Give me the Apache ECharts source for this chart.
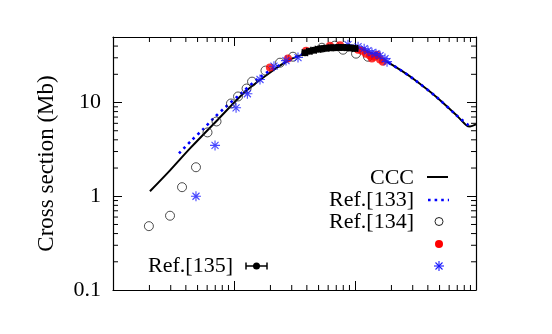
<!DOCTYPE html>
<html>
<head>
<meta charset="utf-8">
<script src="https://cdn.jsdelivr.net/npm/echarts@6/dist/echarts.min.js"></script>
<style>html,body{margin:0;padding:0;background:#fff;}#c{width:552px;height:334px;}</style>
</head>
<body>
<div id="c"></div>
<script>
// ---- data (x: energy, arbitrary log units; y: cross section in Mb) ----
const cccX = [2.02, 2.96, 4.33, 7.24, 12.7, 22.5, 29.0, 35.1, 51.4, 75.2, 100, 133, 177, 235, 303, 473, 692, 837, 892, 1000];
const cccY = [1.13, 1.89, 3.24, 6.44, 13.4, 23.4, 28.7, 31.6, 37.5, 40.4, 39.4, 34.0, 28.0, 22.4, 17.9, 11.4, 7.28, 5.69, 5.56, 5.84];

const ref133X = [3.51, 4.41, 5.54, 6.83, 8.43, 11.2, 16.4, 22.5, 35.1, 51.4, 75.2, 100, 133, 177, 235, 303, 473, 692, 892];
const ref133Y = [2.86, 3.89, 5.17, 6.84, 8.85, 12.2, 18.7, 24.0, 32.0, 37.5, 40.4, 39.4, 34.0, 28.0, 22.4, 17.9, 11.4, 7.28, 5.56];

const ref134X = [1.98, 2.96, 3.72, 4.85, 6.04, 7.17, 9.44, 10.8, 12.7, 14.1, 18.2, 24.0, 30.7, 53.3, 68.0, 79.6, 102, 128];
const ref134Y = [0.48, 0.62, 1.25, 2.04, 4.8, 6.28, 9.76, 11.6, 14.1, 16.7, 21.9, 26.6, 30.8, 38.4, 40.4, 36.6, 33.2, 30.8];

const redX = [19.8, 27.9, 39.4, 62.1, 75.2, 106, 114, 123, 133, 138, 146, 152, 161, 170];
const redY = [23.6, 29.4, 35.7, 40.4, 40.9, 36.6, 35.7, 33.2, 31.6, 29.4, 30.8, 32.4, 28.7, 27.3];

const starX = [4.85, 6.97, 10.4, 12.9, 16.4, 21.4, 26.9, 33.8, 87.5, 106, 119, 128, 138, 149, 161, 177, 184];
const starY = [1.0, 3.49, 8.78, 12.4, 17.6, 24.4, 28.0, 30.2, 41.4, 39.4, 37.5, 35.7, 34.0, 33.2, 31.6, 29.4, 27.3];

const ref135X = [38.6, 42, 45.5, 49.5, 53.5, 58, 63, 68, 73.5, 79.5, 86, 93, 100];
const ref135Y = [34.0, 35.2, 36.2, 37.0, 37.6, 38.0, 38.3, 38.5, 38.6, 38.6, 38.5, 38.2, 37.8];
const ref135Lo = [36.7, 39.9, 43.2, 47.0, 50.8, 55.1, 59.9, 64.6, 69.8, 75.5, 81.7, 88.4, 95.0];
const ref135Hi = [40.5, 44.1, 47.8, 52.0, 56.2, 60.9, 66.2, 71.4, 77.2, 83.5, 90.3, 97.7, 105.0];

const yTickLabels = ['0.1', '1', '10'];
const xRange = [1, 1000];
const yRange = [0.1, 50];
const xMinorTicks = [2,3,4,5,6,7,8,9,20,30,40,50,60,70,80,90,200,300,400,500,600,700,800,900];
const yMinorTicks = [0.2,0.3,0.4,0.5,0.6,0.7,0.8,0.9,2,3,4,5,6,7,8,9,20,30,40];

const zip = (a, b) => a.map((v, i) => [v, b[i]]);
const FONT = 'Liberation Serif';
const FS = 22;

const tickData = [];
xMinorTicks.forEach(v => { tickData.push([v, yRange[0], 0]); tickData.push([v, yRange[1], 1]); });
yMinorTicks.forEach(v => { tickData.push([xRange[0], v, 2]); tickData.push([xRange[1], v, 3]); });

const errData = ref135X.map((x, i) => [x, ref135Y[i], ref135Lo[i], ref135Hi[i]]);

const chart = echarts.init(document.getElementById('c'), null, {renderer: 'canvas'});

const axisCommonX = {
  type: 'log', logBase: 10, min: xRange[0], max: xRange[1],
  axisLine: {show: true, onZero: false, lineStyle: {color: '#000', width: 1.2}},
  axisTick: {show: true, inside: true, length: 9, lineStyle: {color: '#000', width: 1}},
  axisLabel: {show: false},
  splitLine: {show: false}
};
const axisCommonY = {
  type: 'log', logBase: 10, min: yRange[0], max: yRange[1],
  axisLine: {show: true, onZero: false, lineStyle: {color: '#000', width: 1.2}},
  axisTick: {show: true, inside: true, length: 9, lineStyle: {color: '#000', width: 1}},
  splitLine: {show: false}
};

const asterisk = 'path://M5,0L5,10M0,5L10,5M1.5,1.5L8.5,8.5M1.5,8.5L8.5,1.5';
const BLUE = '#1a1aff';

function txt(t, x, y) {
  return {type: 'text', style: {text: t, x: x, y: y, align: 'right', verticalAlign: 'middle', fontFamily: FONT, fontSize: FS, fill: '#000'}};
}
function seg(x1, y1, x2, y2, color, w, dash) {
  const st = {stroke: color, lineWidth: w};
  if (dash) st.lineDash = dash;
  return {type: 'line', shape: {x1: x1, y1: y1, x2: x2, y2: y2}, style: st};
}

chart.setOption({
  animation: false,
  backgroundColor: '#fff',
  grid: {left: 113, top: 37, right: 76, bottom: 44},
  xAxis: [
    Object.assign({position: 'bottom'}, axisCommonX),
    Object.assign({position: 'top'}, axisCommonX)
  ],
  yAxis: [
    Object.assign({
      position: 'left',
      name: 'Cross section (Mb)', nameLocation: 'middle', nameGap: 55,
      nameTextStyle: {fontFamily: FONT, fontSize: 23, color: '#000'},
      axisLabel: {
        show: true, margin: 12, fontFamily: FONT, fontSize: FS, color: '#000',
        showMaxLabel: false,
        formatter: function (v) {
          const s = String(+(+v).toPrecision(3));
          return yTickLabels.indexOf(s) >= 0 ? s : '';
        }
      }
    }, axisCommonY),
    Object.assign({position: 'right', axisLabel: {show: false}}, axisCommonY)
  ],
  series: [
    {
      type: 'custom', xAxisIndex: 0, yAxisIndex: 0, data: tickData, silent: true,
      encode: {x: 0, y: 1}, clip: false, z: 1,
      renderItem: function (params, api) {
        const p = api.coord([api.value(0), api.value(1)]);
        const d = api.value(2), L = 5;
        let x2 = p[0], y2 = p[1];
        if (d === 0) y2 -= L; else if (d === 1) y2 += L; else if (d === 2) x2 += L; else x2 -= L;
        return {type: 'line', shape: {x1: p[0], y1: p[1], x2: x2, y2: y2}, style: {stroke: '#000', lineWidth: 1}};
      }
    },
    {
      name: 'CCC', type: 'line', data: zip(cccX, cccY), showSymbol: false, smooth: 0.3,
      lineStyle: {color: '#000', width: 2}, z: 2
    },
    {
      name: 'Ref.[133]', type: 'line', data: zip(ref133X, ref133Y), showSymbol: false, smooth: 0.3,
      lineStyle: {color: '#0000ff', width: 2.6, type: [2.6, 4]}, z: 3
    },
    {
      name: 'Ref.[134]', type: 'scatter', data: zip(ref134X, ref134Y), symbol: 'circle', symbolSize: 9,
      itemStyle: {color: 'rgba(255,255,255,0)', borderColor: '#222', borderWidth: 1}, z: 4
    },
    {
      name: 'red', type: 'scatter', data: zip(redX, redY), symbol: 'circle', symbolSize: 8,
      itemStyle: {color: '#ff0000'}, z: 5
    },
    {
      name: 'star', type: 'scatter', data: zip(starX, starY), symbol: asterisk, symbolSize: 10,
      itemStyle: {color: 'rgba(0,0,255,0)', borderColor: BLUE, borderWidth: 1.1}, z: 6
    },
    {
      name: 'Ref.[135]', type: 'custom', data: errData, encode: {x: 0, y: 1}, z: 7,
      renderItem: function (params, api) {
        const y = api.value(1);
        const p = api.coord([api.value(0), y]);
        const lo = api.coord([api.value(2), y]);
        const hi = api.coord([api.value(3), y]);
        return {type: 'group', children: [
          {type: 'line', shape: {x1: lo[0], y1: p[1], x2: hi[0], y2: p[1]}, style: {stroke: '#000', lineWidth: 1.5}},
          {type: 'line', shape: {x1: lo[0], y1: p[1] - 3.5, x2: lo[0], y2: p[1] + 3.5}, style: {stroke: '#000', lineWidth: 1.5}},
          {type: 'line', shape: {x1: hi[0], y1: p[1] - 3.5, x2: hi[0], y2: p[1] + 3.5}, style: {stroke: '#000', lineWidth: 1.5}},
          {type: 'circle', shape: {cx: p[0], cy: p[1], r: 3.5}, style: {fill: '#000'}}
        ]};
      }
    }
  ],
  graphic: [
    txt('CCC', 414, 178),
    seg(427, 177, 448, 177, '#000', 2),
    txt('Ref.[133]', 414, 200),
    seg(428, 200, 449, 200, '#0000ff', 2.6, [2.6, 4]),
    txt('Ref.[134]', 414, 222),
    {type: 'circle', shape: {cx: 439, cy: 221.5, r: 4}, style: {fill: 'none', stroke: '#222', lineWidth: 1}},
    {type: 'circle', shape: {cx: 439, cy: 244, r: 4}, style: {fill: '#ff0000'}},
    seg(439, 261, 439, 271, BLUE, 1.1),
    seg(434, 266, 444, 266, BLUE, 1.1),
    seg(435.5, 262.5, 442.5, 269.5, BLUE, 1.1),
    seg(435.5, 269.5, 442.5, 262.5, BLUE, 1.1),
    txt('Ref.[135]', 233, 266),
    seg(246, 266, 267, 266, '#000', 1.5),
    seg(246, 262.5, 246, 269.5, '#000', 1.5),
    seg(267, 262.5, 267, 269.5, '#000', 1.5),
    {type: 'circle', shape: {cx: 256.5, cy: 266, r: 3.5}, style: {fill: '#000'}}
  ]
});
</script>
</body>
</html>
